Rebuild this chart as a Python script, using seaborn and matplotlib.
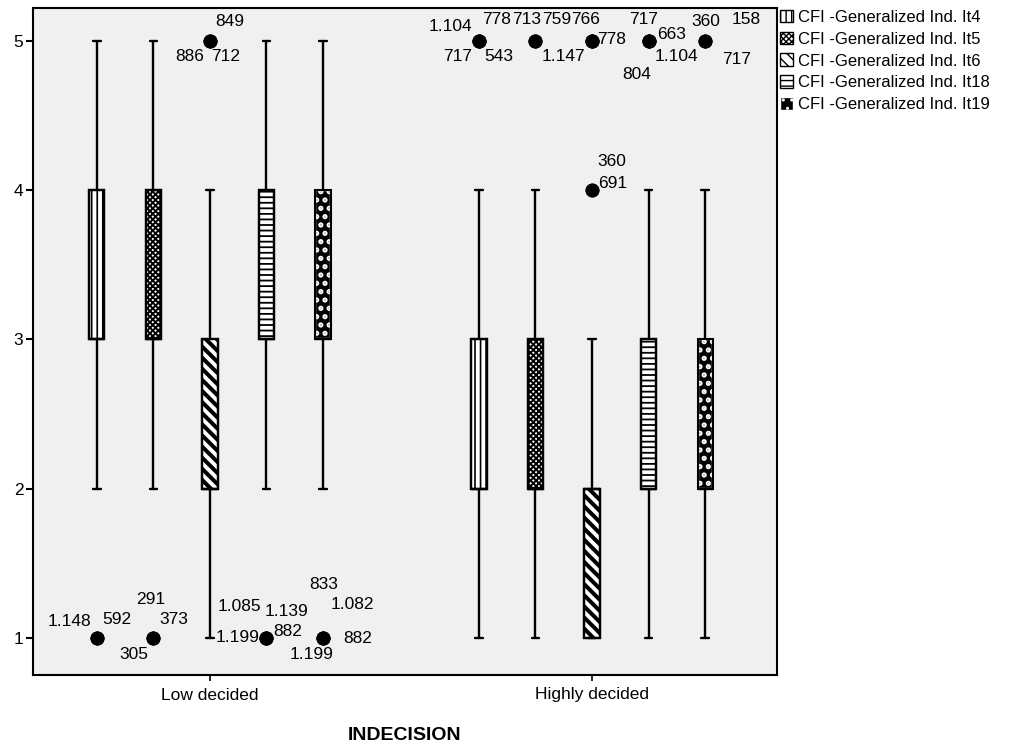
import numpy as np
import pandas as pd
import matplotlib
matplotlib.use("Agg")
import matplotlib.pyplot as plt
from matplotlib.patches import Patch, PathPatch
from matplotlib.colors import to_hex
import seaborn as sns

# ---------------- data ----------------
groups = ["Low decided", "Highly decided"]
items = ["CFI -Generalized Ind. It4", "CFI -Generalized Ind. It5",
         "CFI -Generalized Ind. It6", "CFI -Generalized Ind. It18",
         "CFI -Generalized Ind. It19"]
scores = [1, 2, 3, 4, 5]

# counts of answers 1..5 per item, for each group
low_it4 = [3, 15, 35, 30, 15]
low_it5 = [3, 15, 35, 30, 15]
low_it6 = [15, 35, 30, 15, 3]
low_it18 = [4, 15, 35, 30, 15]
low_it19 = [4, 15, 35, 30, 15]
high_it4 = [15, 35, 30, 15, 4]
high_it5 = [15, 35, 30, 15, 3]
high_it6 = [40, 40, 15, 2, 4]
high_it18 = [15, 35, 30, 15, 4]
high_it19 = [15, 35, 30, 15, 3]

counts = {
    ("Low decided", items[0]): low_it4, ("Low decided", items[1]): low_it5,
    ("Low decided", items[2]): low_it6, ("Low decided", items[3]): low_it18,
    ("Low decided", items[4]): low_it19,
    ("Highly decided", items[0]): high_it4, ("Highly decided", items[1]): high_it5,
    ("Highly decided", items[2]): high_it6, ("Highly decided", items[3]): high_it18,
    ("Highly decided", items[4]): high_it19,
}

# outlier case labels: group index, item index, value, text
lab_group = [0, 0, 0, 0, 0, 0, 0, 0, 0, 0, 0, 0, 0, 0, 0, 0,
             1, 1, 1, 1, 1, 1, 1, 1, 1, 1, 1, 1, 1, 1, 1, 1, 1, 1]
lab_item = [0, 0, 1, 1, 1, 2, 2, 2, 3, 3, 3, 3, 4, 4, 4, 4,
            0, 0, 0, 0, 1, 1, 1, 2, 2, 2, 2, 3, 3, 3, 3, 4, 4, 4]
lab_value = [1, 1, 1, 1, 1, 5, 5, 5, 1, 1, 1, 1, 1, 1, 1, 1,
             5, 5, 5, 5, 5, 5, 5, 5, 5, 4, 4, 5, 5, 5, 5, 5, 5, 5]
lab_text = ["1.148", "592", "291", "373", "305", "849", "886", "712",
            "1.085", "1.139", "1.199", "882", "833", "1.082", "882", "1.199",
            "1.104", "778", "717", "543", "713", "759", "1.147", "766", "778",
            "360", "691", "717", "663", "1.104", "804", "360", "158", "717"]

# label offsets in pixels (style)
lab_offset = [(-27, 16), (20, 18), (-3, 38), (20, 18), (-20, -17),
              (20, 19), (-20, -16), (16, -16),
              (-27, 31), (20, 26), (-29, 0), (21, 6),
              (1, 53), (29, 33), (35, -1), (-11, -17),
              (-29, 14), (18, 21), (-21, -16), (20, -16),
              (-9, 21), (21, 21), (28, -16),
              (-6, 21), (20, 1), (20, 29), (21, 7),
              (-5, 21), (23, 6), (28, -16), (-12, -34),
              (1, 19), (41, 21), (31, -19)]

rows = []
for (g, it), c in counts.items():
    for s, n in zip(scores, c):
        rows += [(g, it, s)] * n
df = pd.DataFrame(rows, columns=["INDECISION", "item", "score"])

# ---------------- style ----------------
sns.set_theme(style="ticks")
plt.rcParams["font.family"] = ["Liberation Sans", "DejaVu Sans"]
plt.rcParams["text.color"] = "black"
plt.rcParams["axes.labelcolor"] = "black"

fig = plt.figure(figsize=(10.11, 7.45), dpi=100)
ax = fig.add_axes([33 / 1011, 1 - 675 / 745, (777 - 33) / 1011, (675 - 8) / 745])
ax.set_facecolor("#F0F0F0")

palette = dict(zip(items, ["#e41a1c", "#377eb8", "#4daf4a", "#984ea3", "#ff7f00"]))
WIDTH = 0.74
sns.boxplot(data=df, x="INDECISION", y="score", hue="item", order=groups,
            hue_order=items, palette=palette, saturation=1, width=WIDTH,
            gap=0.73, linecolor="black", linewidth=1.7, legend=False,
            flierprops=dict(marker="o", markerfacecolor="black",
                            markeredgecolor="black", markersize=9),
            ax=ax)

styles = {
    items[0]: dict(fc="white", ec="black", hatch="|||", hlw=1.2),
    items[1]: dict(fc="white", ec="black", hatch="xxxxxx", hlw=1.4),
    items[2]: dict(fc="white", ec="black", hatch="\\\\\\", hlw=2.9),
    items[3]: dict(fc="white", ec="black", hatch="---", hlw=1.3),
    items[4]: dict(fc="black", ec="white", hatch="..", hlw=2.5),
}
color_to_item = {to_hex(v): k for k, v in palette.items()}
for p in list(ax.patches):
    key = color_to_item.get(to_hex(p.get_facecolor()))
    if key is None:
        continue
    st = styles[key]
    p.set_facecolor(st["fc"])
    p.set_edgecolor(st["ec"])
    p.set_hatch(st["hatch"])
    if hasattr(p, "set_hatch_linewidth"):
        p.set_hatch_linewidth(st["hlw"])
    outline = PathPatch(p.get_path(), transform=p.get_transform(), fill=False,
                        edgecolor="black", linewidth=1.5, zorder=p.get_zorder() + 0.1)
    ax.add_patch(outline)

# outlier labels
n = len(items)
for g, i, v, t, (dx, dy) in zip(lab_group, lab_item, lab_value, lab_text, lab_offset):
    x = g + (i - (n - 1) / 2) * WIDTH / n
    ax.annotate(t, xy=(x, v), xytext=(dx, dy), textcoords="offset pixels",
                ha="center", va="center", fontsize=12.5, color="black")

ax.set_xlim(-0.463, 1.484)
ax.set_ylim(0.752, 5.221)
ax.set_yticks([1, 2, 3, 4, 5])
ax.set_ylabel("")
ax.set_xlabel("INDECISION", fontsize=14, fontweight="bold", labelpad=18, color="black")
ax.tick_params(axis="y", direction="out", length=5, width=1.5, labelsize=12.5,
               pad=2, colors="black")
ax.tick_params(axis="x", direction="out", length=4, width=1.2, labelsize=12.5,
               pad=5, colors="black")
for s in ax.spines.values():
    s.set_visible(True)
    s.set_color("black")
    s.set_linewidth(1.5)

handles = []
for k in items:
    st = styles[k]
    h = Patch(facecolor=st["fc"], edgecolor="black" if k != items[4] else "white",
              hatch=st["hatch"], label=k)
    handles.append(h)
leg = fig.legend(handles=handles, loc="upper left", bbox_to_anchor=(778 / 1011, 1 - 8 / 745),
                 frameon=False, fontsize=12, handlelength=0.8, handleheight=0.8,
                 handletextpad=0.3, labelspacing=0.4, borderaxespad=0, borderpad=0.1)
for txt in leg.get_texts():
    txt.set_color("black")

fig.savefig("out.png", dpi=100, facecolor="white")
